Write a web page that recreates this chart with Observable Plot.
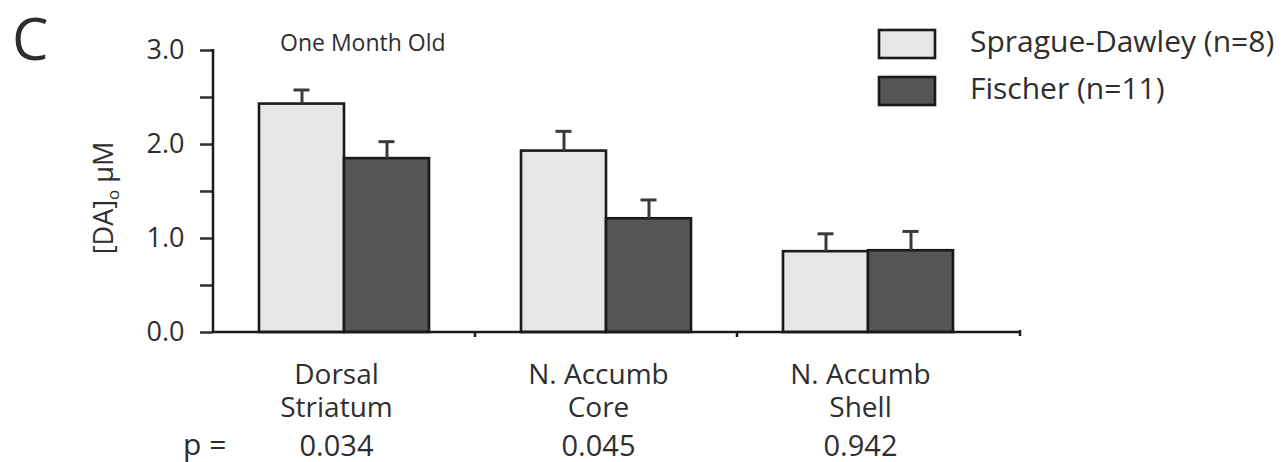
<!DOCTYPE html>
<html><head><meta charset="utf-8">
<script src="https://cdn.jsdelivr.net/npm/d3@7"></script>
<script src="https://cdn.jsdelivr.net/npm/@observablehq/plot@0.6"></script>
<style>body{margin:0;background:#fff}</style>
</head><body><div id="chart"></div>
<script>
// ---- data ----
const regions = ["Dorsal Striatum", "N. Accumb Core", "N. Accumb Shell"];
const regionLabels = ["Dorsal\nStriatum", "N. Accumb\nCore", "N. Accumb\nShell"];
const strains = ["Sprague-Dawley (n=8)", "Fischer (n=11)"];
const sdMeans = [2.43, 1.93, 0.86];
const sdErr = [0.15, 0.21, 0.19];
const fiMeans = [1.85, 1.21, 0.87];
const fiErr = [0.18, 0.20, 0.205];
const pValues = ["0.034", "0.045", "0.942"];
const yTicks = [0, 0.5, 1, 1.5, 2, 2.5, 3];
const title = "One Month Old";
const panelLetter = "C";

const rows = [];
regions.forEach((r, i) => {
  rows.push({region: r, strain: strains[0], mean: sdMeans[i], err: sdErr[i]});
  rows.push({region: r, strain: strains[1], mean: fiMeans[i], err: fiErr[i]});
});

const W = 1287, H = 462;
const FONT = "'Open Sans', sans-serif";
const INK = "#2e2e2e";
const colors = ["#e6e6e6", "#555555"];

const plot = Plot.plot({
  width: W, height: H,
  marginLeft: 213, marginRight: 288, marginTop: 50, marginBottom: 130,
  style: {fontFamily: FONT, fontSize: "27px", color: INK, background: "#fff", overflow: "visible"},
  fx: {domain: regions, padding: 0, axis: null, label: null},
  x: {domain: strains, paddingInner: 0, paddingOuter: 0.541, axis: null},
  y: {domain: [0, 3]},
  color: {domain: strains, range: colors},
  marks: [
    Plot.barY(rows, {fx: "region", x: "strain", y: "mean", fill: "strain", stroke: "#1a1a1a", strokeWidth: 2.6}),
    Plot.ruleX(rows, {fx: "region", x: "strain", y1: "mean", y2: d => d.mean + d.err, stroke: "#3a3a3a", strokeWidth: 3}),
    Plot.tickY(rows, {fx: "region", x: "strain", y: d => d.mean + d.err, stroke: "#3a3a3a", strokeWidth: 3, insetLeft: 34.5, insetRight: 34.5}),
    Plot.axisY({ticks: yTicks, tickFormat: d => Number.isInteger(d) ? d.toFixed(1) : "", tickSize: 13, tickPadding: 16, strokeWidth: 2.5, label: null, fontSize: 27}),
    Plot.text(regions, {fx: d => d, text: (d, i) => regionLabels[i], frameAnchor: "bottom", lineAnchor: "top", dy: 28, dx: -8, fontSize: 28, lineHeight: 1.18, fill: INK}),
    Plot.text(regions, {fx: d => d, text: (d, i) => pValues[i], frameAnchor: "bottom", lineAnchor: "top", dy: 103, dx: -8, fontSize: 29, fill: INK})
  ]
});

document.getElementById("chart").appendChild(plot);

// ---- frame-level decorations (axis lines, legend, titles) ----
const svg = d3.select(plot);
const fx = plot.scale("fx");
const y = plot.scale("y");
const y0 = y.apply(0), y3 = y.apply(3);
const xLeft = fx.apply(regions[0]);
const xEnd = fx.apply(regions[regions.length - 1]) + fx.bandwidth + 21;

const g = svg.append("g").attr("stroke", "#1a1a1a").attr("stroke-width", 2.5);
g.append("line").attr("x1", xLeft).attr("x2", xLeft).attr("y1", y3 - 1).attr("y2", y0 + 1);
g.append("line").attr("x1", xLeft).attr("x2", xEnd).attr("y1", y0).attr("y2", y0);
regions.slice(0, -1).forEach(r => {
  const xb = fx.apply(r) + fx.bandwidth;
  g.append("line").attr("x1", xb).attr("x2", xb).attr("y1", y0).attr("y2", y0 + 5);
});
g.append("line").attr("x1", xEnd).attr("x2", xEnd).attr("y1", y0 - 2).attr("y2", y0 + 4);

const t = svg.append("g").attr("font-family", FONT).attr("fill", INK).attr("text-anchor", "start");
t.append("text").attr("x", 12).attr("y", 60).attr("font-size", 58).text(panelLetter);
t.append("text").attr("x", 280).attr("y", 51).attr("font-size", 23).text(title);
t.append("text").attr("x", 183).attr("y", 455).attr("font-size", 30).text("p =");

const yl = t.append("text").attr("transform", "translate(113,198) rotate(-90)")
  .attr("text-anchor", "middle").attr("font-size", 27);
yl.append("tspan").text("[DA]");
yl.append("tspan").attr("font-size", 17).attr("dy", 6).text("o");
yl.append("tspan").attr("dy", -6).text(" μM");

const legendY = [30, 77];
strains.forEach((s, i) => {
  t.append("rect").attr("x", 879).attr("y", legendY[i]).attr("width", 56).attr("height", 28)
    .attr("fill", colors[i]).attr("stroke", "#1a1a1a").attr("stroke-width", 2.6);
  t.append("text").attr("x", 970).attr("y", legendY[i] + 22).attr("font-size", 30).text(s);
});
</script>
</body></html>
